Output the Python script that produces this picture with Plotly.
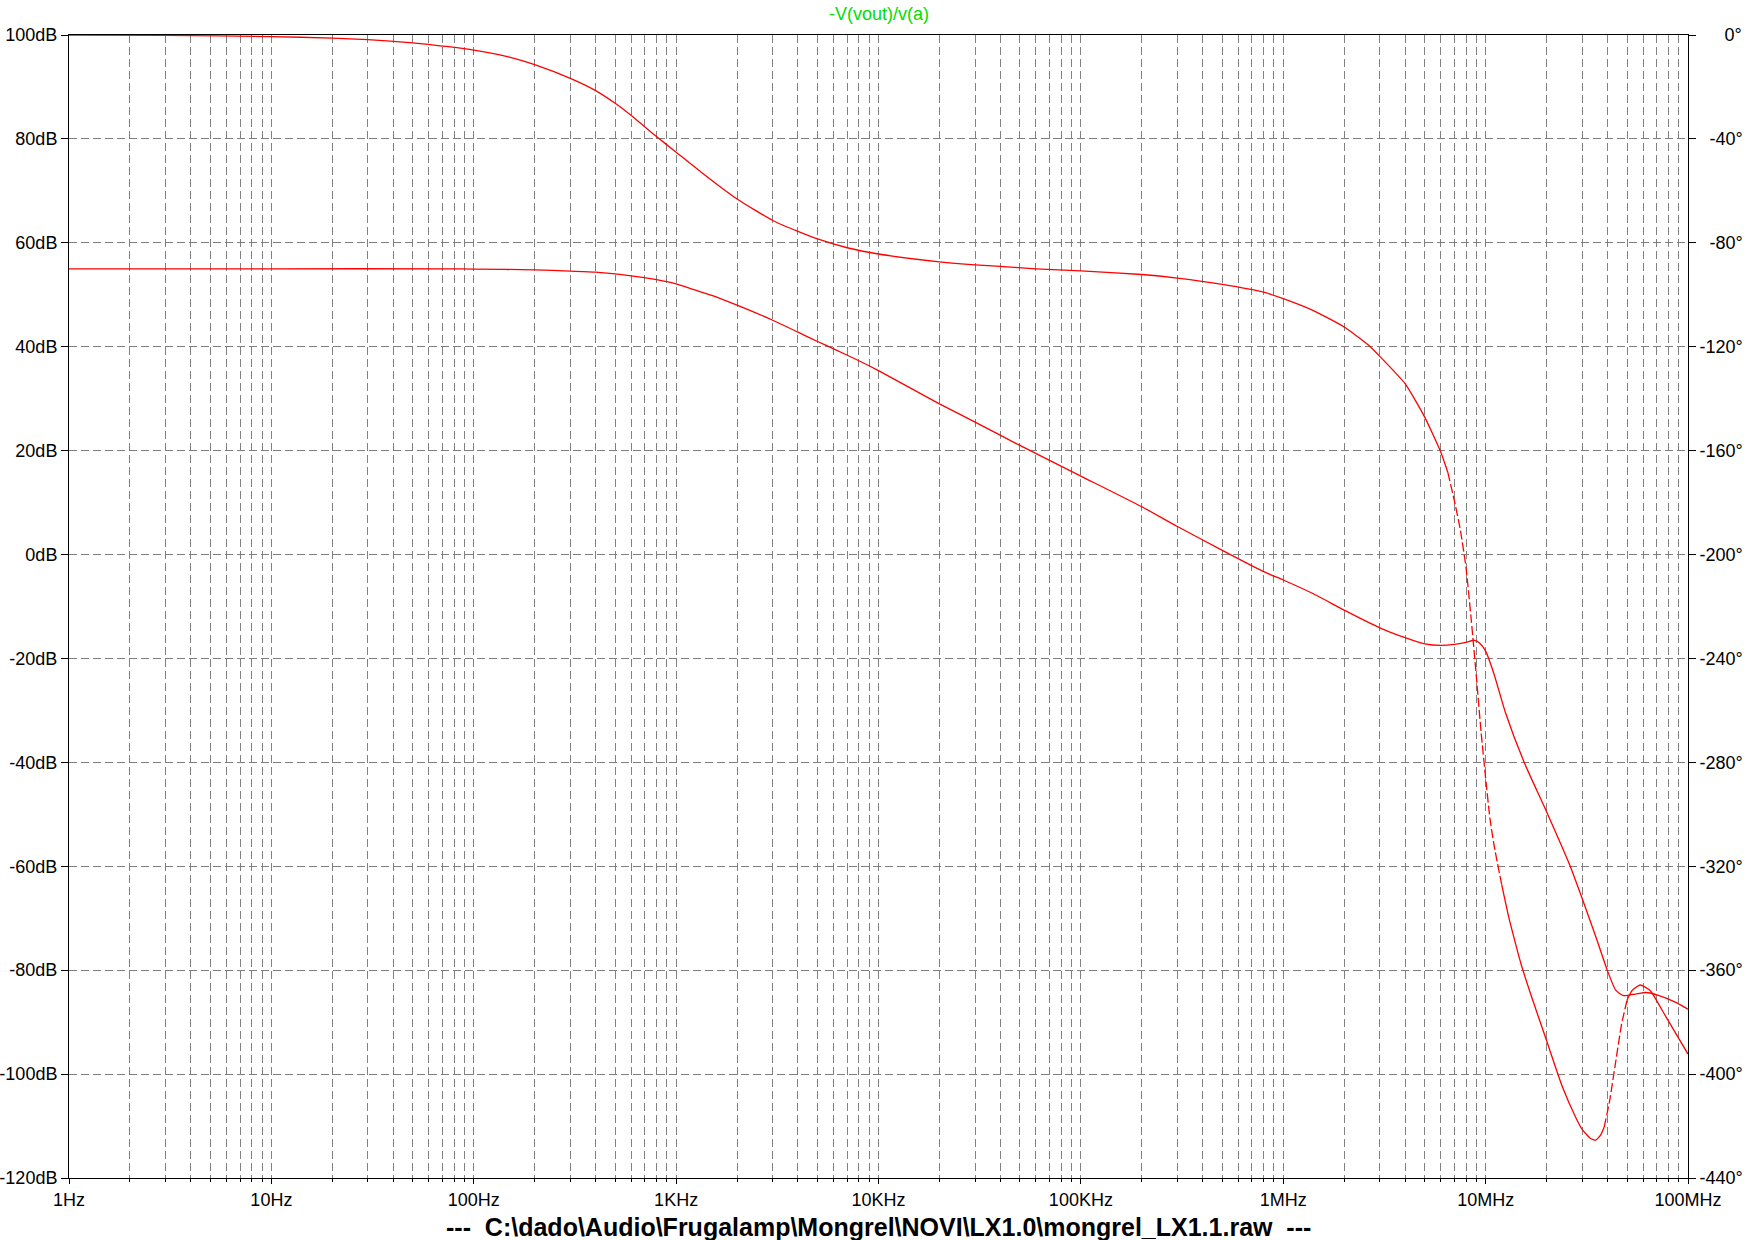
import plotly.graph_objects as go

# ---------------- data ----------------
mag_freq = [1, 10, 75, 100, 200, 300, 400, 600, 800, 1000, 1200, 1500, 2000, 3000, 4000,
            5000, 6000, 8000, 10e3, 20e3, 30e3, 50e3, 100e3, 200e3, 300e3, 500e3, 800e3,
            1e6, 1.4e6, 2e6, 3e6, 4e6, 5e6, 6e6, 7e6, 8e6, 8.8e6, 9.3e6, 10e6, 11e6,
            12.5e6, 15.5e6, 20e6, 26e6, 30e6, 35e6, 40e6, 44e6, 48e6, 55e6, 62e6, 72e6,
            87e6, 100e6]
mag_db = [55.0, 55.0, 55.0, 54.95, 54.8, 54.55, 54.35, 53.65, 52.9, 52.1, 51.1, 49.9, 48.0,
          45.1, 42.8, 41.0, 39.6, 37.3, 35.4, 29.0, 25.5, 21.0, 15.1, 9.2, 5.4, 0.8, -3.3,
          -4.9, -7.5, -10.7, -14.1, -16.0, -17.2, -17.5, -17.3, -16.9, -16.5, -17.0, -18.6,
          -23.0, -30.3, -40.0, -49.5, -59.7, -66.2, -73.5, -80.1, -83.9, -84.9, -84.6, -84.3,
          -84.9, -86.2, -87.5]

ph_freq = [1, 3, 10, 20, 30, 50, 75, 100, 150, 200, 300, 400, 500, 600, 800, 1000, 1330,
           2000, 3000, 4000, 5000, 7000, 10e3, 20e3, 30e3, 40e3, 60e3, 100e3, 200e3, 300e3,
           500e3, 800e3, 1e6, 1.4e6, 2e6, 2.65e6, 3e6, 4e6, 5e6, 6e6, 6.5e6, 7e6, 7.5e6,
           8e6, 8.5e6, 9e6, 9.5e6, 10e6, 10.5e6, 11e6, 12e6, 13e6, 14e6, 15e6, 17e6, 20e6,
           24e6, 28e6, 30e6, 33e6, 35e6, 37e6, 38.5e6, 41e6, 43.5e6, 47e6, 50e6, 53e6, 58e6,
           65e6, 78e6, 100e6]
ph_deg = [-0.06, -0.17, -0.6, -1.2, -1.8, -3.0, -4.5, -5.8, -8.5, -11.4, -16.7, -21.4, -26.3,
          -31.0, -39.1, -45.1, -52.8, -63.1, -71.4, -75.6, -78.5, -81.9, -84.3, -87.3, -88.5,
          -89.1, -90.0, -90.8, -92.2, -93.6, -96.0, -99.0, -101.5, -106.0, -112.4, -119.5,
          -123.7, -134.2, -147.1, -160.5, -168.3, -179.1, -190.5, -205.0, -225.5, -247.0,
          -268.5, -286.0, -301.5, -311.8, -327.0, -339.5, -349.3, -357.9, -371.0, -387.1,
          -405.1, -417.0, -421.3, -424.8, -425.4, -423.5, -420.5, -410.3, -397.4, -380.7,
          -371.5, -367.8, -365.7, -367.8, -378.1, -392.3]

x_tick_vals = [1, 10, 100, 1e3, 1e4, 1e5, 1e6, 1e7, 1e8]
x_tick_text = ["1Hz", "10Hz", "100Hz", "1KHz", "10KHz", "100KHz", "1MHz", "10MHz", "100MHz"]
db_ticks = [100, 80, 60, 40, 20, 0, -20, -40, -60, -80, -100, -120]
deg_ticks = [0, -40, -80, -120, -160, -200, -240, -280, -320, -360, -400, -440]

title_text = "-V(vout)/v(a)"
file_text = r"---  C:\dado\Audio\Frugalamp\Mongrel\NOVI\LX1.0\mongrel_LX1.1.raw  ---"

# where the phase trace is drawn dashed (between these frequencies)
dash_ranges = [(6.5e6, 12e6), (38.5e6, 50e6)]

RED = "#FF0000"
GRID = "#808080"
GDASH = "8px,4px"

fig = go.Figure()

fig.add_trace(go.Scatter(x=mag_freq, y=mag_db, mode="lines",
                         line=dict(color=RED, width=1.3, shape="spline", smoothing=0.5),
                         yaxis="y", hoverinfo="skip"))

# phase: split into solid / dashed pieces
bounds = []
for a, b in dash_ranges:
    bounds.append(ph_freq.index(a))
    bounds.append(ph_freq.index(b))
pieces = []
start = 0
dashed = False
for bidx in bounds:
    pieces.append((start, bidx, dashed))
    start = bidx
    dashed = not dashed
pieces.append((start, len(ph_freq) - 1, dashed))
for s, e, d in pieces:
    fig.add_trace(go.Scatter(x=ph_freq[s:e + 1], y=ph_deg[s:e + 1], mode="lines",
                             line=dict(color=RED, width=1.3, shape="spline", smoothing=0.5,
                                       dash="9px,3px" if d else "solid"),
                             yaxis="y2", hoverinfo="skip"))


def deg_label(v):
    # pad with no-break spaces so the labels line up on the right like the reference
    nb = {4: 0, 3: 2, 1: 5}.get(len(str(v)), 0)
    return "\u00a0" * nb + f"{v}°"


fig.update_layout(
    width=1754, height=1240,
    margin=dict(l=69, r=66, t=35, b=62, autoexpand=False),
    plot_bgcolor="white", paper_bgcolor="white",
    showlegend=False,
    font=dict(family="Liberation Sans, Arial, sans-serif", size=18, color="black"),
    xaxis=dict(type="log", range=[0, 8], tickvals=x_tick_vals, ticktext=x_tick_text,
               ticks="outside", ticklen=5, tickcolor="black", tickwidth=1,
               showline=True, linecolor="black", linewidth=1, mirror=True,
               showgrid=True, gridcolor=GRID, gridwidth=1, griddash=GDASH,
               zeroline=False, automargin=False,
               minor=dict(dtick="D1", showgrid=True, gridcolor=GRID, gridwidth=1,
                          griddash=GDASH, ticks="outside", ticklen=3, tickcolor="black")),
    yaxis=dict(range=[-120, 100], tickvals=db_ticks,
               ticktext=[f"{v}dB" for v in db_ticks],
               ticks="outside", ticklen=7, tickcolor="black",
               showline=True, linecolor="black", linewidth=1,
               showgrid=True, gridcolor=GRID, gridwidth=1, griddash=GDASH,
               zeroline=False, automargin=False),
    yaxis2=dict(range=[-440, 0], overlaying="y", side="right", tickvals=deg_ticks,
                ticktext=[deg_label(v) for v in deg_ticks],
                ticks="outside", ticklen=7, tickcolor="black",
                showline=True, linecolor="black", linewidth=1,
                showgrid=False, zeroline=False, automargin=False),
    annotations=[
        dict(text=title_text, xref="paper", yref="paper", x=0.5, y=1.018,
             xanchor="center", yanchor="middle", showarrow=False,
             font=dict(color="#00DD00", size=18)),
        dict(text="<b>" + file_text + "</b>", xref="paper", yref="paper", x=0.5, y=-0.043,
             xanchor="center", yanchor="middle", showarrow=False,
             font=dict(color="black", size=25)),
    ],
)

fig.write_html("out.html",
               config={"displayModeBar": False},
               post_script="document.body.style.margin='0';"
                           "document.body.style.overflow='hidden';")
